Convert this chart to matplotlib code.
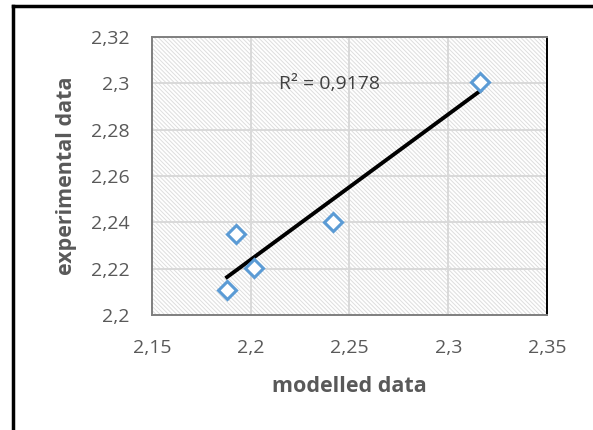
import numpy as np
import matplotlib.pyplot as plt
from matplotlib.patches import Rectangle
from matplotlib.lines import Line2D
from matplotlib.ticker import FuncFormatter, MultipleLocator

modelled = [2.188, 2.1925, 2.2014, 2.2415, 2.316]
experimental = [2.211, 2.2348, 2.2202, 2.2403, 2.3006]
r2_label = "R² = 0,9178"

plt.rcParams['font.family'] = ['Open Sans', 'DejaVu Sans']
plt.rcParams['hatch.linewidth'] = 0.7

fig = plt.figure(figsize=(5.93, 4.30), dpi=100)
ax = fig.add_axes([0.2563, 0.2674, 0.6661, 0.6465])

# hatched plot area
ax.add_patch(Rectangle((0, 0), 1, 1, transform=ax.transAxes, facecolor='white',
                       edgecolor='#dedede', hatch='\\' * 8, linewidth=0, zorder=0))
ax.set_facecolor('white')

ax.set_xlim(2.15, 2.35)
ax.set_ylim(2.2, 2.32)
ax.xaxis.set_major_locator(MultipleLocator(0.05))
ax.yaxis.set_major_locator(MultipleLocator(0.02))
comma = FuncFormatter(lambda v, p: ('%g' % round(v, 4)).replace('.', ','))
ax.xaxis.set_major_formatter(comma)
ax.yaxis.set_major_formatter(comma)

ax.grid(True, color='#d9d9d9', linewidth=1.4, zorder=1)
ax.set_axisbelow(True)
ax.tick_params(length=0, labelsize=14, labelcolor='#595959')
ax.tick_params(axis='y', pad=16)
ax.tick_params(axis='x', pad=17)

for s in ['left', 'top', 'bottom']:
    ax.spines[s].set_color('#7f7f7f')
    ax.spines[s].set_linewidth(1.4)
ax.spines['right'].set_color('black')
ax.spines['right'].set_linewidth(1.4)

# linear trendline
k, b = np.polyfit(modelled, experimental, 1)
xs = np.array([min(modelled), max(modelled)])
ax.plot(xs, k * xs + b, color='black', linewidth=2.8, zorder=3)

ax.plot(modelled, experimental, linestyle='none', marker='D', markersize=9,
        markerfacecolor='white', markeredgecolor='#5b9bd5', markeredgewidth=2.2, zorder=4)

ax.text(2.240, 2.2997, r2_label, fontsize=14, color='#404040', ha='center', va='center', zorder=5)

ax.set_xlabel('modelled data', fontsize=15.5, fontweight='bold', color='#595959', labelpad=14)
ax.set_ylabel('experimental data', fontsize=15.5, fontweight='bold', color='#595959', labelpad=10)

# outer chart border (left and top visible)
fig.add_artist(Line2D([13 / 593, 13 / 593], [0, 1 - 6 / 430], transform=fig.transFigure,
                      color='black', linewidth=2.5))
fig.add_artist(Line2D([13 / 593, 1], [1 - 6 / 430, 1 - 6 / 430], transform=fig.transFigure,
                      color='black', linewidth=2.5))

fig.savefig('out.png', dpi=100)
